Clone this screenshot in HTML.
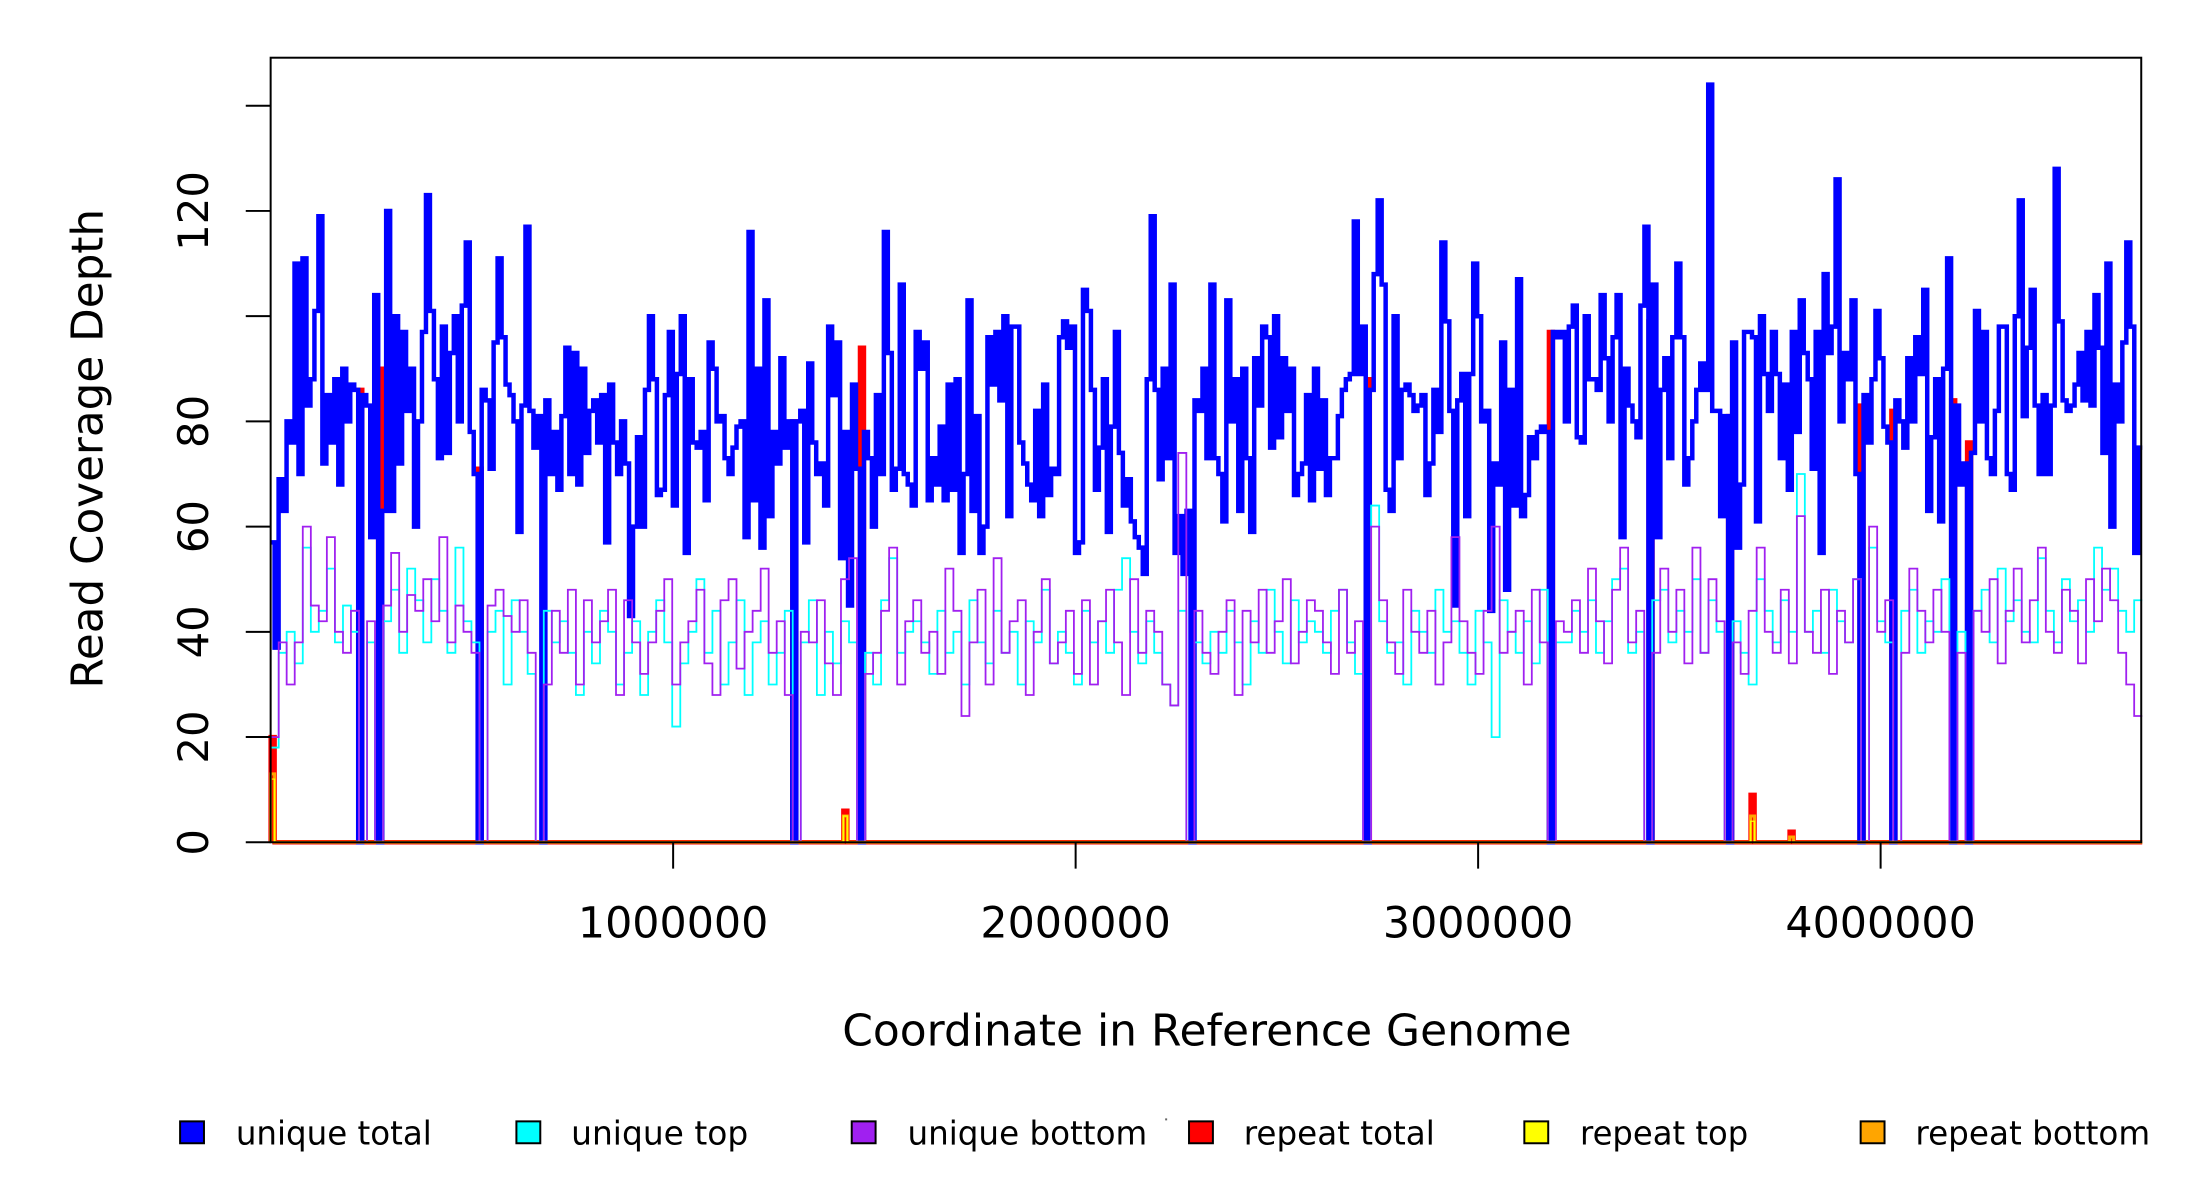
<!DOCTYPE html>
<html><head><meta charset="utf-8"><style>
html,body{margin:0;padding:0;background:#fff;}
svg{display:block;font-family:"DejaVu Sans","Liberation Sans",sans-serif;}
</style></head><body>
<svg id="chart" width="2200" height="1200" viewBox="0 0 2200 1200" xmlns="http://www.w3.org/2000/svg">
<rect x="0" y="0" width="2200" height="1200" fill="#fff"/>
<g transform="scale(0.995)">
<g id="series"></g>
<rect x="272" y="58" width="1880" height="788.5" fill="none" stroke="#000" stroke-width="2"/>
<g id="yaxis"></g>
<g id="xaxis"></g>
<text x="1213" y="1051" font-size="44" text-anchor="middle" textLength="733" lengthAdjust="spacingAndGlyphs">Coordinate in Reference Genome</text>
<text transform="translate(103,451) rotate(-90)" font-size="44" text-anchor="middle" textLength="482" lengthAdjust="spacingAndGlyphs">Read Coverage Depth</text>
<g id="legend"></g>
<rect x="1171" y="1124" width="2" height="2" fill="#666"/>
</g>
</svg>
<script>
const genomeLength = 4650000;
const yTicks = [0,20,40,60,80,100,120,140];
const yTickLabels = ["0","20","40","60","80","","120",""];
const xTicks = [1000000,2000000,3000000,4000000];
const xTickLabels = ["1000000","2000000","3000000","4000000"];
const uniqueTotal = [57,37,69,63,80,76,110,70,111,83,88,101,119,72,85,76,88,68,90,80,87,86,0,85,83,58,104,0,63,120,63,100,72,97,82,90,60,80,97,123,101,88,73,98,74,93,100,80,102,114,78,70,0,86,84,71,95,111,96,87,85,80,59,83,117,82,75,81,0,84,70,78,67,81,94,70,93,68,90,74,82,84,76,85,57,87,76,70,80,72,43,60,77,60,86,100,88,66,67,85,97,64,89,100,55,88,76,75,78,65,95,90,80,81,73,70,75,79,80,58,116,65,90,56,103,62,78,72,92,75,80,0,80,82,57,91,76,70,72,64,98,85,95,54,78,45,87,71,0,78,73,60,85,70,116,93,67,71,106,70,68,64,97,90,95,65,73,68,79,65,87,67,88,55,70,103,63,81,55,60,96,87,97,84,100,62,98,98,76,72,68,65,82,62,87,66,71,70,96,99,94,98,55,57,105,101,86,67,75,88,59,79,97,74,64,69,61,58,56,51,88,119,86,69,90,73,106,55,62,51,63,0,84,82,90,73,106,73,70,61,103,80,88,63,90,73,59,92,83,98,96,75,100,77,92,82,90,66,70,72,85,65,90,71,84,66,73,73,81,86,88,89,118,89,98,0,86,108,122,106,67,63,100,73,86,87,85,82,83,85,66,72,86,78,114,99,82,45,84,89,62,89,110,100,80,82,44,72,68,95,48,86,64,107,62,66,77,73,78,79,78,0,97,96,97,80,98,102,77,76,100,88,88,86,104,92,80,96,104,58,90,83,80,77,102,117,0,106,58,86,92,73,96,110,96,68,73,80,86,91,86,144,82,82,62,81,0,95,56,68,97,97,96,61,100,89,82,97,89,73,87,67,97,78,103,93,88,71,97,55,108,93,98,126,80,93,88,103,70,0,85,76,88,101,92,79,76,0,84,80,75,92,80,96,89,105,63,77,88,61,90,111,0,83,68,72,0,74,101,80,97,73,70,82,98,98,70,67,100,122,81,94,105,83,70,85,70,83,128,99,84,82,83,87,93,84,97,83,104,94,74,110,60,87,80,95,114,98,55,75];
const uniqueTop = [18,36,40,34,56,40,44,52,38,45,40,0,38,0,42,48,36,52,46,38,50,44,36,56,42,38,0,40,44,30,46,40,32,0,44,38,42,36,28,40,34,44,40,30,36,42,28,40,46,38,22,34,40,50,36,44,30,38,46,28,38,42,30,36,44,0,38,46,28,40,34,42,38,0,36,30,46,54,36,40,42,38,32,44,36,40,30,46,38,34,44,36,40,30,42,38,48,34,40,36,30,44,38,42,36,48,54,40,34,42,36,30,26,44,0,38,34,40,36,44,38,30,42,36,48,40,34,46,38,42,40,36,44,48,38,32,0,64,42,36,38,30,44,40,36,48,40,42,36,30,44,38,20,46,40,36,42,34,48,0,38,38,44,40,46,36,42,50,52,36,40,0,46,48,38,44,40,50,36,46,40,0,42,36,30,50,44,38,46,40,70,40,44,36,48,42,38,50,0,56,42,38,0,44,48,36,42,40,50,0,40,0,44,48,38,52,42,46,40,38,54,44,38,50,42,46,40,56,48,52,44,40,46];
const uniqueBottom = [20,38,30,38,60,45,42,58,40,36,44,0,42,0,45,55,40,47,44,50,42,58,38,45,40,36,0,45,48,43,40,46,36,0,30,44,36,48,30,46,38,42,48,28,46,38,32,38,44,50,30,38,42,48,34,28,46,50,33,40,44,52,36,42,28,0,40,38,46,34,28,50,54,0,32,36,44,56,30,42,46,36,40,32,52,44,24,38,48,30,54,36,42,46,28,40,50,34,38,44,32,46,30,42,48,38,28,50,36,44,40,30,26,74,0,44,36,32,40,46,28,44,38,48,36,42,50,34,40,46,44,38,32,48,36,42,0,60,46,38,32,48,40,36,44,30,38,58,42,36,32,44,60,36,40,44,30,48,38,0,42,40,46,36,52,42,34,48,56,38,44,0,36,52,40,48,34,56,36,50,42,0,38,32,44,56,40,36,48,34,62,40,36,48,32,44,38,50,0,60,40,46,0,36,52,44,38,48,40,0,36,0,44,40,50,34,44,52,38,46,56,40,36,48,44,34,50,42,52,46,36,30,24];
const repeatTotalPos = [0,217700,267100,514500,1296100,1423000,1464300,2720900,3176000,3423300,3621200,3677000,3774000,3947700,4026900,4175300,4214800];
const repeatTotalVal = [20,86,90,71,80,6,94,88,97,99,81,9,2,83,82,84,76];
const repeatTopPos = [0,1423000,3677000];
const repeatTopVal = [12,5,4];
const repeatBottomPos = [0,1423000,3677000,3774000];
const repeatBottomVal = [13,5,5,1];
const binWidth = 9894;

const X0=272, X1=2153, Y0=846.5, PX_PER_UNIT=5.2875;
function xScale(bp){ return X0 + bp/genomeLength*(X1-X0); }
function yScale(v){ return Y0 - v*PX_PER_UNIT; }
const NS="http://www.w3.org/2000/svg";
function mk(tag, parent){ const e=document.createElementNS(NS,tag); parent.appendChild(e); return e; }

function stepPath(vals){
  const w = genomeLength/vals.length;
  let d = "M"+xScale(0).toFixed(1)+","+yScale(vals[0]).toFixed(1);
  for(let i=0;i<vals.length;i++){
    const y=yScale(vals[i]).toFixed(1);
    d += " V"+y+" H"+xScale((i+1)*w).toFixed(1);
  }
  return d;
}
function spikePath(pos, vals){
  let d = "M"+xScale(0).toFixed(1)+","+yScale(0).toFixed(1);
  for(let i=0;i<pos.length;i++){
    d += " H"+xScale(pos[i]).toFixed(1)+" V"+yScale(vals[i]).toFixed(1)+" H"+xScale(pos[i]+binWidth).toFixed(1)+" V"+yScale(0).toFixed(1);
  }
  d += " H"+xScale(genomeLength).toFixed(1);
  return d;
}
const series = document.getElementById('series');
function addPath(d, color, w, name){
  const p = mk('path', series);
  p.setAttribute('d', d);
  p.setAttribute('fill','none');
  p.setAttribute('stroke', color);
  p.setAttribute('stroke-width', w);
  p.setAttribute('stroke-linejoin','miter');
  
  
}
addPath(spikePath(repeatTotalPos, repeatTotalVal), '#ff0000', 4.5, 'repeat-total-line');
addPath(stepPath(uniqueTotal), '#0000ff', 4.5, 'unique-total-line');
addPath(stepPath(uniqueTop), '#00ffff', 1.8, 'unique-top-line');
addPath(stepPath(uniqueBottom), '#a020f0', 1.8, 'unique-bottom-line');
addPath(spikePath(repeatBottomPos, repeatBottomVal), '#ffa500', 3, 'repeat-bottom-line');
addPath(spikePath(repeatTopPos, repeatTopVal), '#ffff00', 1.2, 'repeat-top-line');

const ya = document.getElementById('yaxis');
for(let i=0;i<yTicks.length;i++){
  const y=yScale(yTicks[i]);
  const l=mk('line', ya);
  l.setAttribute('x1',247); l.setAttribute('x2',272); l.setAttribute('y1',y); l.setAttribute('y2',y);
  l.setAttribute('stroke','#000'); l.setAttribute('stroke-width',2);
  
  
  if(yTickLabels[i]){
    const t=mk('text', ya);
    t.setAttribute('transform','translate(209,'+y+') rotate(-90)');
    t.setAttribute('font-size','42'); t.setAttribute('text-anchor','middle');
    t.textContent=yTickLabels[i];
    
    
  }
}
const xa = document.getElementById('xaxis');
for(let i=0;i<xTicks.length;i++){
  const x=xScale(xTicks[i]);
  const l=mk('line', xa);
  l.setAttribute('x1',x); l.setAttribute('x2',x); l.setAttribute('y1',847); l.setAttribute('y2',873);
  l.setAttribute('stroke','#000'); l.setAttribute('stroke-width',2);
  
  
  const t=mk('text', xa);
  t.setAttribute('x',x); t.setAttribute('y',942);
  t.setAttribute('font-size','43'); t.setAttribute('text-anchor','middle');
  t.textContent=xTickLabels[i];
  
  
}
const legendLabels = ["unique total","unique top","unique bottom","repeat total","repeat top","repeat bottom"];
const legendColors = ["#0000ff","#00ffff","#a020f0","#ff0000","#ffff00","#ffa500"];
const legendBoxX = [181,519,856,1195,1532,1870];
const legendTextX = [237,574,912,1250,1588,1925];
const legendTextW = [197,178,241,192,169,236];
const lg = document.getElementById('legend');
for(let i=0;i<legendLabels.length;i++){
  const r=mk('rect', lg);
  r.setAttribute('x',legendBoxX[i]); r.setAttribute('y',1127); r.setAttribute('width',24); r.setAttribute('height',22);
  r.setAttribute('fill',legendColors[i]); r.setAttribute('stroke','#000'); r.setAttribute('stroke-width',2);
  
  
  const t=mk('text', lg);
  t.setAttribute('x',legendTextX[i]); t.setAttribute('y',1150);
  t.setAttribute('font-size','33');
  t.setAttribute('textLength',legendTextW[i]); t.setAttribute('lengthAdjust','spacingAndGlyphs');
  t.textContent=legendLabels[i];
  
  
}
</script>
</body></html>
